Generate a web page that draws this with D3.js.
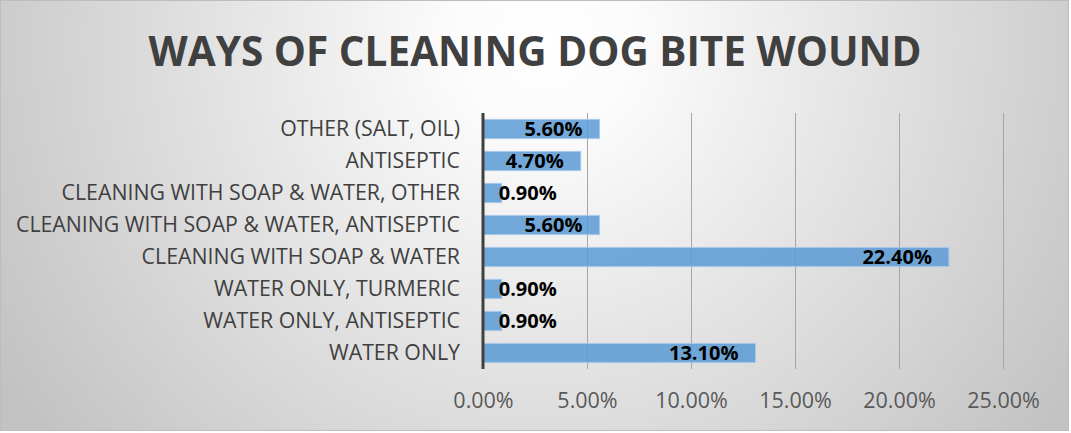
<!DOCTYPE html>
<html>
<head>
<meta charset="utf-8">
<script src="https://cdn.jsdelivr.net/npm/d3@7"></script>
<style>
  html, body { margin: 0; padding: 0; background: #fff; }
  svg { display: block; }
</style>
</head>
<body>
<script>
const title = "WAYS OF CLEANING DOG BITE WOUND";
const categories = [
  "OTHER (SALT, OIL)",
  "ANTISEPTIC",
  "CLEANING WITH SOAP & WATER, OTHER",
  "CLEANING WITH SOAP & WATER, ANTISEPTIC",
  "CLEANING WITH SOAP & WATER",
  "WATER ONLY, TURMERIC",
  "WATER ONLY, ANTISEPTIC",
  "WATER ONLY"
];
const values = [0.056, 0.047, 0.009, 0.056, 0.224, 0.009, 0.009, 0.131];
const tickValues = [0, 0.05, 0.10, 0.15, 0.20, 0.25];

const W = 1071, H = 433;
const svg = d3.select("body").append("svg").attr("width", W).attr("height", H);

const defs = svg.append("defs");
const grad = defs.append("radialGradient").attr("id", "bg")
  .attr("gradientUnits", "userSpaceOnUse")
  .attr("cx", 545).attr("cy", 40).attr("r", 640);
grad.append("stop").attr("offset", "0").attr("stop-color", "#ffffff");
grad.append("stop").attr("offset", "0.15").attr("stop-color", "#fbfbfb");
grad.append("stop").attr("offset", "1").attr("stop-color", "#c2c2c2");

svg.append("rect").attr("x", 0.5).attr("y", 0.5).attr("width", 1068).attr("height", 430)
  .attr("fill", "url(#bg)").attr("stroke", "#bdbdbd").attr("stroke-width", 1);

const x = d3.scaleLinear().domain([0, 0.25]).range([483, 1003]);
const y = d3.scaleBand().domain(categories).range([113, 369]).paddingInner(0.4).paddingOuter(0.2);

const font = "'Open Sans', 'Noto Sans', sans-serif";

// title
svg.append("text").attr("x", 535).attr("y", 66)
  .attr("text-anchor", "middle")
  .attr("font-family", font).attr("font-weight", "bold").attr("font-size", 40.5)
  .attr("fill", "#404040").text(title);

// gridlines
svg.append("g").selectAll("line").data(tickValues.slice(1)).join("line")
  .attr("x1", d => Math.round(x(d)) + 0.5).attr("x2", d => Math.round(x(d)) + 0.5)
  .attr("y1", 113).attr("y2", 369)
  .attr("stroke", "#a6a6a6").attr("stroke-width", 1);

// x tick labels via axis
const fmt = d => (d * 100).toFixed(2) + "%";
const xAxis = svg.append("g").attr("transform", "translate(0,369)")
  .call(d3.axisBottom(x).tickValues(tickValues).tickFormat(fmt).tickSize(0).tickPadding(0));
xAxis.select(".domain").remove();
xAxis.selectAll("text").attr("y", 31).attr("dy", "0.35em")
  .attr("font-family", font).attr("font-size", 21.5).attr("fill", "#595959");

// bars
svg.append("g").selectAll("rect").data(values).join("rect")
  .attr("x", x(0)).attr("y", (d, i) => y(categories[i]))
  .attr("width", d => x(d) - x(0)).attr("height", y.bandwidth())
  .attr("fill", "#5b9bd5").attr("fill-opacity", 0.85)
  .attr("stroke", "#a9c9ea").attr("stroke-width", 1);

// y axis category labels
const yAxis = svg.append("g").attr("transform", "translate(483,0)")
  .call(d3.axisLeft(y).tickSize(0).tickPadding(23));
yAxis.select(".domain").remove();
yAxis.selectAll("text")
  .attr("font-family", font).attr("font-size", 21.3).attr("fill", "#404040");

// axis line
svg.append("line").attr("x1", 483).attr("x2", 483).attr("y1", 113).attr("y2", 369)
  .attr("stroke", "#404040").attr("stroke-width", 3);

// data labels
const lbl = svg.append("g").selectAll("text").data(values).join("text")
  .attr("y", (d, i) => y(categories[i]) + y.bandwidth() / 2)
  .attr("dy", "0.36em")
  .attr("font-family", font).attr("font-weight", "bold").attr("font-size", 20)
  .attr("fill", "#000").text(d => fmt(d));
lbl.each(function(d) {
  const t = d3.select(this);
  const w = this.getComputedTextLength();
  const right = x(d) - 17;
  if (right - w < x(0) + 2) {
    t.attr("x", x(d) - 3).attr("text-anchor", "start");
  } else {
    t.attr("x", right).attr("text-anchor", "end");
  }
});
</script>
</body>
</html>
